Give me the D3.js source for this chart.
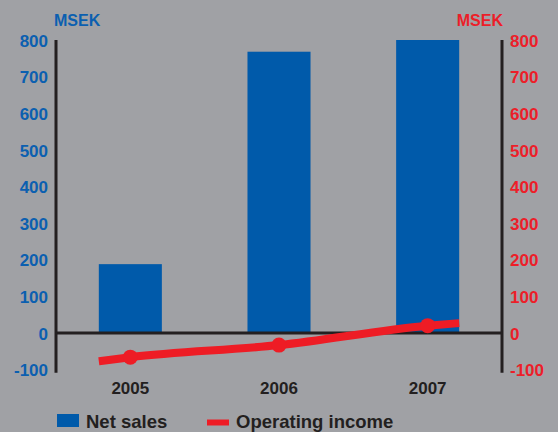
<!DOCTYPE html>
<html>
<head>
<meta charset="utf-8">
<script src="https://cdn.jsdelivr.net/npm/d3@7"></script>
<style>
  html, body { margin: 0; padding: 0; background: #a0a1a5; }
  svg { display: block; font-family: "Liberation Sans", Arial, sans-serif; font-weight: bold; }
</style>
</head>
<body>
<svg id="chart" width="558" height="432"></svg>
<script>
// Annual figures, MSEK
const years = ["2005", "2006", "2007"];
const netSales = [188, 768, 800];
const operatingIncome = [-66, -33, 20];
// Operating income line carried out to the outer bar edges
const incomeLineEnds = [-77, 27];
const yTicks = [-100, 0, 100, 200, 300, 400, 500, 600, 700, 800];

const svg = d3.select("#chart");
const W = 558, H = 432;
const plotLeft = 56, plotRight = 502, plotTop = 40, zeroY = 333;

const COL_BG = "#a0a1a5";
const COL_BLUE = "#005aaa";
const COL_BLUE_TXT = "#0b5fb0";
const COL_RED = "#ee1c25";
const COL_RED_TXT = "#ec1e29";
const COL_DARK = "#231f20";

svg.append("rect").attr("width", W).attr("height", H).attr("fill", COL_BG);

const x = d3.scaleBand().domain(years).range([plotLeft, plotRight]).paddingInner(0.576).paddingOuter(0.288);
const y = d3.scaleLinear().domain([0, 800]).range([zeroY, plotTop]);
const tickText = d => String(d);

// Bars
svg.append("g").selectAll("rect").data(years).join("rect")
  .attr("x", d => x(d))
  .attr("width", x.bandwidth())
  .attr("y", (d, i) => y(netSales[i]))
  .attr("height", (d, i) => y(0) - y(netSales[i]))
  .attr("fill", COL_BLUE);

// Zero line
svg.append("line")
  .attr("x1", plotLeft).attr("x2", plotRight)
  .attr("y1", y(0)).attr("y2", y(0))
  .attr("stroke", COL_DARK).attr("stroke-width", 3);

// Left axis (net sales)
const leftAxis = d3.axisLeft(y).tickValues(yTicks).tickFormat(tickText).tickSize(0).tickPadding(8);
const gl = svg.append("g").attr("transform", `translate(${plotLeft},0)`).call(leftAxis);
gl.select(".domain").remove();
gl.selectAll("text").attr("fill", COL_BLUE_TXT).style("font-size", "17px").style("font-weight", "bold")
  .attr("dy", "0.36em");
svg.append("line").attr("x1", plotLeft).attr("x2", plotLeft)
  .attr("y1", y(800)).attr("y2", y(-100) + 3)
  .attr("stroke", COL_DARK).attr("stroke-width", 3);

// Right axis (operating income)
const rightAxis = d3.axisRight(y).tickValues(yTicks).tickFormat(tickText).tickSize(0).tickPadding(8);
const gr = svg.append("g").attr("transform", `translate(${plotRight},0)`).call(rightAxis);
gr.select(".domain").remove();
gr.selectAll("text").attr("fill", COL_RED_TXT).style("font-size", "17px").style("font-weight", "bold")
  .attr("dy", "0.36em");
svg.append("line").attr("x1", plotRight).attr("x2", plotRight)
  .attr("y1", y(800)).attr("y2", y(-100) + 3)
  .attr("stroke", COL_DARK).attr("stroke-width", 3);

// Unit labels
svg.append("text").attr("x", plotLeft - 2).attr("y", 26).text("MSEK")
  .attr("fill", COL_BLUE_TXT).style("font-size", "16px");
svg.append("text").attr("x", plotRight + 1).attr("y", 26).attr("text-anchor", "end").text("MSEK")
  .attr("fill", COL_RED_TXT).style("font-size", "16px");

// Category labels
svg.append("g").selectAll("text").data(years).join("text")
  .attr("x", d => x(d) + x.bandwidth() / 2)
  .attr("y", 394)
  .attr("text-anchor", "middle")
  .attr("fill", COL_DARK)
  .style("font-size", "17px")
  .text(d => d);

// Operating income line
const cx = d => x(d) + x.bandwidth() / 2;
const linePts = [[x(years[0]), incomeLineEnds[0]]]
  .concat(years.map((d, i) => [cx(d), operatingIncome[i]]))
  .concat([[x(years[years.length - 1]) + x.bandwidth(), incomeLineEnds[1]]]);
const line = d3.line().x(p => p[0]).y(p => y(p[1])).curve(d3.curveMonotoneX);
svg.append("path").attr("d", line(linePts))
  .attr("fill", "none").attr("stroke", COL_RED).attr("stroke-width", 8);
svg.append("g").selectAll("circle").data(years).join("circle")
  .attr("cx", d => cx(d))
  .attr("cy", (d, i) => y(operatingIncome[i]))
  .attr("r", 7.5)
  .attr("fill", COL_RED);

// Legend
const lg = svg.append("g");
lg.append("rect").attr("x", 57).attr("y", 414).attr("width", 22).attr("height", 13).attr("fill", COL_BLUE);
lg.append("text").attr("x", 86).attr("y", 428).text("Net sales").attr("fill", COL_DARK).style("font-size", "18.5px");
lg.append("line").attr("x1", 207).attr("x2", 229).attr("y1", 422.5).attr("y2", 422.5)
  .attr("stroke", COL_RED).attr("stroke-width", 6);
lg.append("text").attr("x", 236).attr("y", 428).text("Operating income").attr("fill", COL_DARK).style("font-size", "18.5px");
</script>
</body>
</html>
